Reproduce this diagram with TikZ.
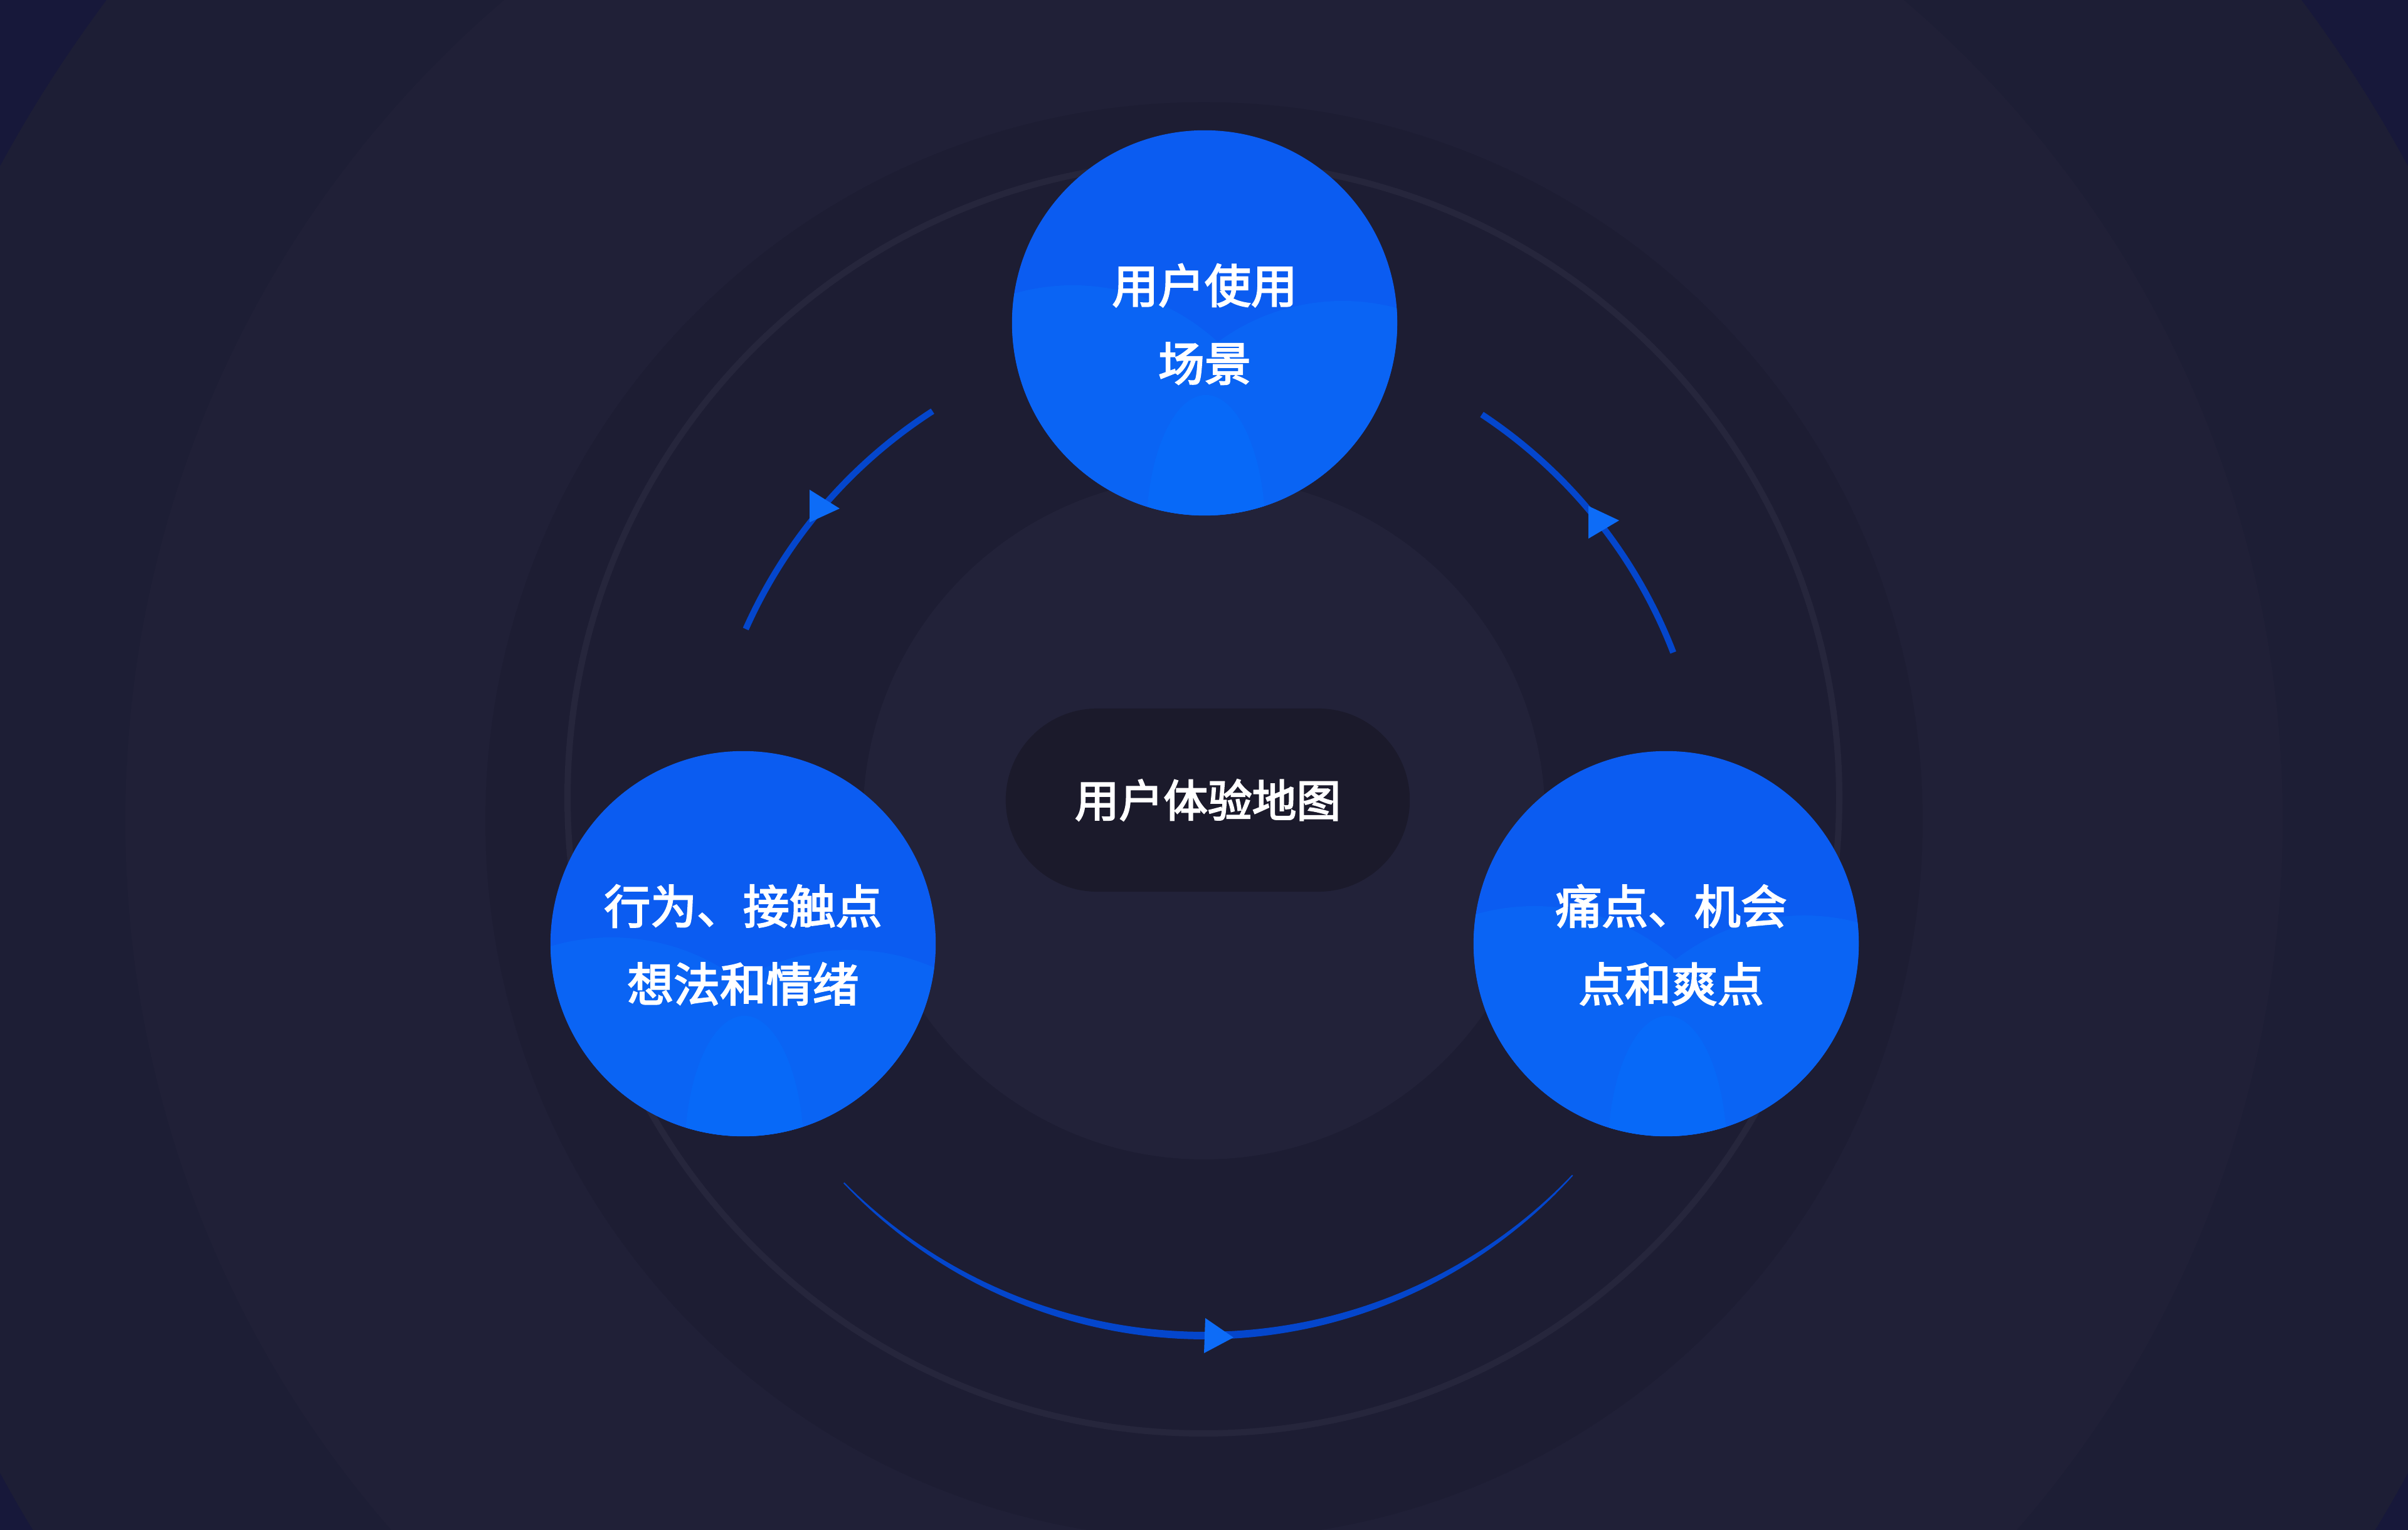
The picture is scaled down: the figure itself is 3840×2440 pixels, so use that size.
\documentclass[tikz,border=0pt]{standalone}
\usepackage{fontspec}
\newfontfamily\cjk{Noto Sans CJK SC}[RawFeature={embolden=3}]
\definecolor{cornerbg}{HTML}{17183A}
\definecolor{bandone}{HTML}{1D1E35}
\definecolor{bandtwo}{HTML}{202037}
\definecolor{bandthree}{HTML}{1D1D33}
\definecolor{ringcol}{HTML}{26263C}
\definecolor{innercol}{HTML}{222239}
\definecolor{pillbg}{HTML}{1B1A2B}
\definecolor{bubblecol}{HTML}{0B5CF1}
\definecolor{blobAcol}{HTML}{0A64F4}
\definecolor{blobCcol}{HTML}{0769F8}
\definecolor{arcblue}{HTML}{0446CC}
\definecolor{tipblue}{HTML}{0D6CF7}
% #1,#2 centre; #3 blob A y; #4,#5 blob B centre
\newcommand\drawblobs[5]{%
  \begin{scope}
    \clip (#1,#2) circle[radius=307];
    \begin{scope}[shift={(#1,#2)}]
      \fill[blobAcol] (-210,#3) circle[radius=340];
      \fill[blobAcol] (#4,#5) circle[radius=335];
      \fill[blobCcol] (2,-335) ellipse[x radius=95, y radius=220];
    \end{scope}
  \end{scope}}
\begin{document}
\begin{tikzpicture}[x=0.01cm,y=0.01cm,
  bubble/.style={circle, fill=bubblecol, minimum size=6.14cm, inner sep=0pt},
  caption/.style={align=center, text=white, inner sep=0pt,
    font={\cjk\fontsize{21pt}{35.3pt}\selectfont}},
  pill/.style={rounded corners=1.46cm, minimum width=6.44cm, minimum height=2.92cm,
    fill=pillbg, text=white, inner sep=0pt, font={\cjk\fontsize{20.1pt}{24pt}\selectfont}},
  flow/.style={draw=arcblue, line width=0.1cm},
  tip/.style={fill=tipblue}]
\useasboundingbox (0,0) rectangle (3840,2440);
\clip (0,0) rectangle (3840,2440);
% background
\fill[cornerbg] (0,0) rectangle (3840,2440);
\fill[bandone] (1920,1133) circle[radius=2184];
\fill[bandtwo] (1920,1131) circle[radius=1720];
\fill[bandthree] (1920,1131) circle[radius=1146];
\draw[ringcol, line width=0.1cm] (1919,1168) circle[radius=1014];
\fill[innercol] (1920,1135) circle[radius=544];
% arcs
\coordinate (tlS) at ({1921+801*cos(122.8)},{1111+801*sin(122.8)});
\coordinate (trS) at ({1921+801*cos(56.5)},{1111+801*sin(56.5)});
\draw[flow] (tlS) arc[start angle=122.8, end angle=156, radius=801];
\draw[flow] (trS) arc[start angle=56.5, end angle=21.1, radius=801];
\fill[arcblue] plot[domain=224.1:317.1, samples=90, variable=\t]
  ({1921+(802+5*sin(1.9355*(\t-224.1)))*cos(\t)}, {1111+(802+5*sin(1.9355*(\t-224.1)))*sin(\t)})
  -- plot[domain=317.1:224.1, samples=90, variable=\t]
  ({1921+(800-5*sin(1.9355*(\t-224.1)))*cos(\t)}, {1111+(800-5*sin(1.9355*(\t-224.1)))*sin(\t)})
  -- cycle;
% arrow tips
\coordinate (tipL) at (1339,1629);
\coordinate (tipR) at (2582,1610);
\coordinate (tipB) at (1967,307);
\fill[tip] (1291,1659) -- (1291,1607) -- (tipL) -- cycle;
\fill[tip] (2533,1633) -- (2533,1581) -- (tipR) -- cycle;
\fill[tip] (1922,338) -- (1920,282) -- (tipB) -- cycle;
% bubbles
\node[bubble] (scene) at (1921,1925) {};
\drawblobs{1921}{1925}{-280}{220}{-300}
\node[bubble] (act) at (1185,935) {};
\drawblobs{1185}{935}{-330}{170}{-345}
\node[bubble] (pain) at (2657,935) {};
\drawblobs{2657}{935}{-280}{220}{-290}
\node[caption] (sceneT) at ([yshift=-0.02cm]scene.center) {用户使用\\场景};
\node[caption] (actT) at ([yshift=-0.02cm]act.center) {行为、接触点\\想法和情绪};
\node[caption] (painT) at ([xshift=0.08cm,yshift=-0.02cm]pain.center) {痛点、机会\\点和爽点};
% centre
\node[pill] (map) at (1926,1164) {用户体验地图};
\end{tikzpicture}
\end{document}
